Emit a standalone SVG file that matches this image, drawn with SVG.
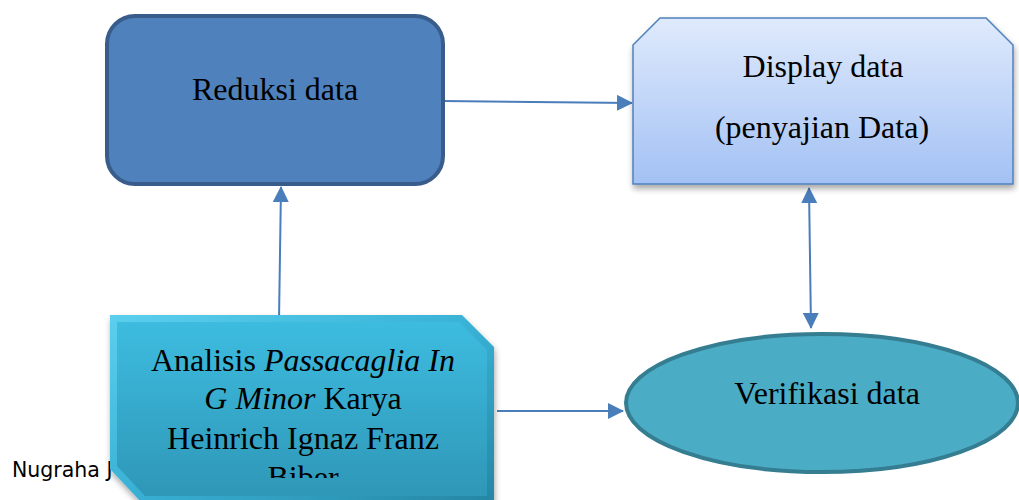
<svg xmlns="http://www.w3.org/2000/svg" width="1019" height="500" viewBox="0 0 1019 500">
  <defs>
    <style>
      .lbl { font-family: "Liberation Serif", "Times New Roman", serif; font-size: 32px; fill: #000; text-anchor: middle; }
      .conn { stroke: #4a7ebb; stroke-width: 2; fill: none; }
      .note { font-family: "DejaVu Sans", Verdana, sans-serif; font-size: 20.5px; fill: #000; }
    </style>
    <marker id="arr" viewBox="0 0 16 16" refX="15" refY="8" markerWidth="16" markerHeight="16" markerUnits="userSpaceOnUse" orient="auto-start-reverse">
      <path d="M0,0 L16,8 L0,16 Z" fill="#4a7ebb"/>
    </marker>
    <linearGradient id="gDisp" x1="0" y1="0" x2="0" y2="1">
      <stop offset="0" stop-color="#dfeafc"/>
      <stop offset="1" stop-color="#a3c1f4"/>
    </linearGradient>
    <linearGradient id="gBevel" x1="0" y1="0" x2="1" y2="1">
      <stop offset="0" stop-color="#5ccfee"/>
      <stop offset="0.5" stop-color="#38b1d5"/>
      <stop offset="1" stop-color="#2686a4"/>
    </linearGradient>
    <linearGradient id="gFace" x1="0" y1="0" x2="0" y2="1">
      <stop offset="0" stop-color="#3dbce0"/>
      <stop offset="1" stop-color="#2f97b7"/>
    </linearGradient>
    <filter id="shadow" x="-10%" y="-10%" width="125%" height="130%">
      <feGaussianBlur in="SourceAlpha" stdDeviation="3"/>
      <feOffset dx="1" dy="4" result="b"/>
      <feComponentTransfer><feFuncA type="linear" slope="0.35"/></feComponentTransfer>
      <feMerge><feMergeNode/><feMergeNode in="SourceGraphic"/></feMerge>
    </filter>
    <clipPath id="clipA">
      <rect x="110" y="315" width="390" height="163"/>
    </clipPath>
  </defs>

  <rect x="0" y="0" width="1019" height="500" fill="#ffffff"/>

  <text class="note" x="12" y="477">Nugraha J</text>

  <g id="connectors">
    <line class="conn" x1="443" y1="101" x2="632" y2="103" marker-end="url(#arr)"/>
    <line class="conn" x1="279" y1="320" x2="281" y2="187" marker-end="url(#arr)"/>
    <line class="conn" x1="809" y1="188" x2="811" y2="328" marker-start="url(#arr)" marker-end="url(#arr)"/>
    <line class="conn" x1="497" y1="411" x2="623" y2="411" marker-end="url(#arr)"/>
  </g>

  <g id="reduksi">
    <rect x="107" y="16" width="336" height="168" rx="28" ry="28" fill="#4f81bd" stroke="#385d8a" stroke-width="4"/>
    <text class="lbl" x="275" y="100">Reduksi data</text>
  </g>

  <g id="display">
    <polygon points="633,45 660,18 986,18 1013,45 1013,184 633,184" fill="url(#gDisp)" stroke="#4f81bd" stroke-width="1.5" filter="url(#shadow)"/>
    <text class="lbl" x="823" y="77">Display data</text>
    <text class="lbl" x="822" y="138">(penyajian Data)</text>
  </g>

  <g id="verifikasi">
    <ellipse cx="822" cy="403" rx="196" ry="69" fill="#4bacc6" stroke="#357d91" stroke-width="4"/>
    <text class="lbl" x="827" y="404">Verifikasi data</text>
  </g>

  <g id="analisis">
    <polygon points="110,315 462,315 494,347 494,503 142,503 110,469" fill="url(#gBevel)" filter="url(#shadow)"/>
    <polygon points="117,322 459,322 487,350 487,496 145,496 117,466" fill="url(#gFace)"/>
    <g clip-path="url(#clipA)">
      <text class="lbl" x="303" y="371">Analisis <tspan font-style="italic">Passacaglia In</tspan></text>
      <text class="lbl" x="303" y="409"><tspan font-style="italic">G Minor</tspan> Karya</text>
      <text class="lbl" x="303" y="449">Heinrich Ignaz Franz</text>
      <text class="lbl" x="303" y="488">Biber</text>
    </g>
  </g>
</svg>
